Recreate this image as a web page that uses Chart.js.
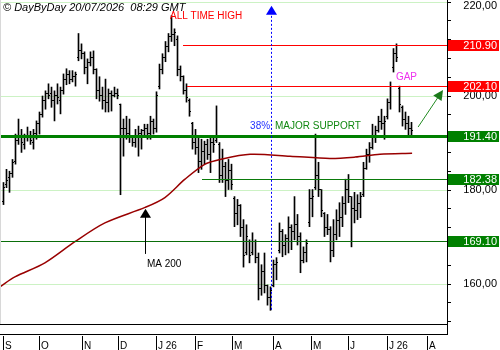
<!DOCTYPE html>
<html>
<head>
<meta charset="utf-8">
<script src="https://cdn.jsdelivr.net/npm/chart.js@4.4.0/dist/chart.umd.min.js"></script>
<style>
  html, body { margin: 0; padding: 0; background: #fff; }
  #wrap { width: 500px; height: 350px; }
</style>
</head>
<body>
<div id="wrap"><canvas id="chart" width="500" height="350"></canvas></div>
<script>
// daily bars, one per trading-day slot (index 0 = early September)
const highs = [
  181.6, 184.4, 184.0, 186.5, 191.9, 195.1, 192.9, 191.9, 193.4, 192.5,
  192.9, 194.7, 196.6, 200.0, 201.1, 202.6, 201.9, 201.1, 202.6, 201.9,
  204.7, 205.8, 205.4, 205.4, 205.1, 213.3, 211.1, 209.4, 207.9, 209.4,
  209.6, 205.8, 204.1, 201.9, 203.6, 201.5, 201.1, 201.9, 201.5, 198.3,
  195.1, 195.7, 195.1, 191.4, 192.9, 193.6, 192.9, 194.0, 194.0, 195.7,
  195.1, 200.9, 206.8, 209.0, 211.6, 213.3, 217.1, 214.3, 212.8, 206.4,
  204.3, 202.6, 199.4, 194.4, 192.9, 191.4, 190.8, 190.4, 190.8, 191.4,
  191.4, 197.9, 190.1, 188.7, 185.9, 186.5, 185.5, 178.6, 178.0, 176.9,
  173.7, 172.6, 169.4, 170.9, 169.4, 166.6, 164.1, 166.6, 159.8, 159.4,
  165.1, 165.6, 173.0, 171.6, 170.5, 174.3, 172.6, 178.6, 174.8, 170.9,
  167.9, 169.4, 180.1, 180.1, 191.9, 185.9, 180.1, 175.2, 174.8, 172.2,
  173.7, 175.8, 177.3, 178.6, 182.3, 183.3, 178.6, 179.5, 179.0, 179.5,
  185.9, 188.7, 190.1, 194.0, 193.6, 195.7, 197.2, 195.7, 199.4, 203.0,
  210.1, 211.1, 202.1, 197.9, 196.6, 195.7, 194.4
];
const lows = [
  176.9, 180.5, 179.5, 182.7, 185.5, 189.7, 188.0, 188.7, 190.4, 189.7,
  188.7, 190.8, 191.9, 195.5, 197.2, 199.4, 197.6, 194.7, 198.3, 196.2,
  200.4, 202.4, 202.6, 203.0, 202.1, 207.5, 207.9, 204.7, 202.6, 206.4,
  204.7, 199.4, 198.9, 197.2, 196.6, 196.6, 196.8, 199.8, 199.4, 179.0,
  187.2, 190.8, 190.1, 189.3, 189.1, 187.2, 188.7, 191.2, 190.8, 190.8,
  191.9, 192.3, 201.5, 204.7, 207.3, 209.4, 211.6, 210.7, 204.3, 203.2,
  200.4, 198.7, 195.7, 188.7, 187.6, 183.7, 184.4, 185.5, 186.5, 183.7,
  188.0, 190.1, 181.6, 181.6, 178.6, 180.1, 180.1, 172.2, 172.6, 170.1,
  163.6, 166.2, 164.5, 166.2, 164.5, 156.6, 157.6, 158.1, 155.5, 154.4,
  159.4, 160.9, 166.6, 165.8, 166.2, 166.6, 167.3, 169.4, 168.3, 162.4,
  164.5, 164.7, 172.2, 174.3, 180.1, 178.6, 174.3, 170.1, 170.5, 164.7,
  165.8, 169.4, 170.1, 172.2, 174.8, 177.3, 167.9, 173.0, 173.7, 174.1,
  178.6, 184.4, 185.9, 188.7, 190.1, 192.3, 192.9, 190.8, 195.1, 197.2,
  205.1, 207.3, 196.6, 193.6, 192.9, 191.4, 191.4
];
const opens = [
  177.5, 181.0, 182.5, 183.5, 186.0, 190.5, 191.5, 189.5, 191.0, 191.5,
  190.0, 192.0, 194.0, 196.0, 199.0, 200.5, 200.5, 199.0, 200.0, 199.0,
  201.0, 203.5, 204.5, 203.5, 204.0, 208.0, 209.5, 209.0, 206.0, 207.0,
  208.0, 205.5, 201.0, 200.0, 199.0, 198.5, 200.5, 200.0, 200.5, 198.0,
  193.0, 193.0, 192.0, 191.0, 190.0, 191.5, 192.0, 192.5, 193.0, 192.0,
  194.5, 193.0, 202.0, 205.5, 208.0, 210.5, 212.5, 213.0, 212.0, 205.5,
  204.0, 201.0, 199.0, 194.0, 190.0, 189.0, 186.0, 188.0, 189.5, 187.5,
  190.0, 190.5, 189.5, 183.0, 185.0, 182.0, 184.0, 178.0, 175.0, 176.5,
  172.0, 166.5, 169.0, 166.5, 169.0, 165.5, 159.0, 162.5, 159.5, 157.0,
  159.5, 164.0, 167.0, 171.0, 168.0, 169.5, 172.0, 171.0, 172.5, 170.0,
  165.0, 166.5, 173.0, 178.0, 180.5, 183.0, 180.0, 175.0, 172.0, 171.5,
  167.0, 170.5, 173.5, 174.0, 177.0, 180.0, 178.5, 176.0, 175.5, 177.0,
  179.0, 184.5, 187.5, 189.0, 191.5, 192.5, 194.5, 194.0, 195.5, 198.5,
  206.0, 209.0, 201.5, 197.5, 195.0, 194.0, 193.0
];
const closes = [
  180.5, 182.0, 183.5, 185.8, 190.5, 191.0, 190.0, 191.0, 191.5, 190.5,
  192.0, 194.0, 196.0, 199.0, 200.5, 200.0, 199.0, 200.0, 199.5, 201.0,
  203.5, 204.5, 203.5, 204.0, 204.5, 209.5, 209.0, 206.0, 207.0, 208.0,
  205.5, 201.0, 200.0, 199.0, 198.5, 200.5, 200.0, 200.5, 200.0, 193.0,
  193.0, 192.0, 191.0, 190.0, 191.5, 192.0, 192.5, 193.0, 192.0, 194.5,
  193.0, 200.0, 205.5, 208.0, 210.5, 212.5, 213.0, 213.5, 205.5, 204.0,
  201.0, 199.5, 196.5, 190.0, 189.0, 186.0, 188.0, 189.5, 187.5, 190.0,
  189.5, 191.0, 183.0, 185.0, 182.0, 184.0, 181.0, 175.0, 176.5, 172.0,
  166.0, 170.0, 166.0, 169.0, 165.5, 159.0, 162.5, 159.5, 157.0, 158.5,
  164.0, 164.5, 171.0, 168.0, 169.5, 172.0, 171.0, 172.5, 170.0, 165.0,
  166.5, 168.5, 178.0, 178.5, 183.0, 180.0, 175.5, 172.0, 171.5, 167.0,
  170.5, 173.5, 174.0, 177.0, 180.0, 178.5, 176.0, 175.5, 177.0, 178.5,
  184.5, 187.5, 189.0, 191.5, 192.5, 194.5, 194.0, 194.5, 198.5, 202.0,
  209.0, 208.0, 198.0, 195.0, 194.0, 193.0, 192.5
];

// 200-day moving average, read at a few points along the curve
const maIndex  = [-1.2, 3.8, 13.8, 23.8, 33.8, 47.2, 53.8, 60.5, 67.2, 72.2, 82.2, 95.5, 108.8, 117.2, 125.5, 136.2];
const maValues = [159.4, 161.5, 164.5, 169.0, 173.0, 176.3, 178.4, 182.3, 185.5, 186.5, 187.6, 187.2, 186.7, 187.0, 187.6, 187.8];

// x axis: month labels and where each month starts (bar index)
const monthLabels = ['S', 'O', 'N', 'D', 'J 26', 'F', 'M', 'A', 'M', 'J', 'J 26', 'A'];
const monthStart  = [-0.2, 11.8, 26.2, 38.2, 50.8, 63.8, 76.2, 89.8, 102.5, 114.8, 127.8, 141.2];

// y axis labels
const priceTicks = [160, 180, 200, 220];

// horizontal levels
const levelValues = [210.90, 202.10, 191.40, 182.38, 169.10];
const levelLabels = ['210.90', '202.10', '191.40', '182.38', '169.10'];
const levelStart  = [59.8, 61.2, -1.2, 66.2, -1.2];

const xMin = -7 / 6, xMax = 887 / 6;
const yMin = 151.49, yMax = 220.43;

const levelStyle = [
  { color: '#ff0000', width: 1 },
  { color: '#ff0000', width: 1 },
  { color: '#008000', width: 3 },
  { color: '#0a7a0a', width: 1 },
  { color: '#0a6e0a', width: 1 }
];

const FONT = '"Liberation Sans", Arial, sans-serif';

function arrowHead(ctx, tx, ty, ang, len, half) {
  ctx.beginPath();
  ctx.moveTo(tx, ty);
  ctx.lineTo(tx - len * Math.cos(ang) + half * Math.sin(ang), ty - len * Math.sin(ang) - half * Math.cos(ang));
  ctx.lineTo(tx - len * Math.cos(ang) - half * Math.sin(ang), ty - len * Math.sin(ang) + half * Math.cos(ang));
  ctx.closePath();
  ctx.fill();
}

const decor = {
  id: 'decor',
  afterDatasetsDraw(chart) {
    const { ctx, chartArea: a, scales: { x, y } } = chart;
    ctx.save();

    // open / close ticks
    ctx.fillStyle = '#000';
    closes.forEach((c, i) => {
      const bx = Math.floor(x.getPixelForValue(i));
      ctx.fillRect(bx - 1, Math.round(y.getPixelForValue(opens[i])) - 1, 1, 1);
      ctx.fillRect(bx + 1, Math.round(y.getPixelForValue(c)) - 1, 1, 1);
    });

    // level lines
    levelValues.forEach((v, k) => {
      const st = levelStyle[k];
      const ly = Math.round(y.getPixelForValue(v));
      const lx = Math.max(a.left, Math.round(x.getPixelForValue(levelStart[k])));
      ctx.fillStyle = st.color;
      ctx.fillRect(lx, ly - Math.floor(st.width / 2), a.right - lx, st.width);
    });

    ctx.restore();
  },
  afterDraw(chart) {
    const { ctx, chartArea: a, scales: { x, y } } = chart;
    ctx.save();

    // left border
    ctx.fillStyle = '#d8d8d8';
    ctx.fillRect(0, 0, 1, a.bottom);

    // bottom axis strip
    ctx.fillStyle = '#000';
    ctx.fillRect(0, a.bottom, a.right + 1, 1);
    ctx.fillRect(0, a.bottom + 10, a.right + 1, 1);
    ctx.fillRect(a.right, a.bottom, 1, 11);
    ctx.font = '10px ' + FONT;
    ctx.textAlign = 'left';
    ctx.textBaseline = 'alphabetic';
    monthStart.forEach((m, k) => {
      const mx = Math.max(2, Math.round(x.getPixelForValue(m)));
      ctx.fillRect(mx, a.bottom + 12, 1, 14);
      ctx.fillText(monthLabels[k], mx + 2, 349);
    });

    // y labels
    ctx.font = '11px ' + FONT;
    ctx.textAlign = 'right';
    ctx.textBaseline = 'middle';
    priceTicks.forEach(v => {
      const ty = Math.max(6, y.getPixelForValue(v));
      ctx.fillText(v.toFixed(2).replace('.', ','), 497, ty);
    });

    // level boxes
    levelValues.forEach((v, k) => {
      const ly = Math.round(y.getPixelForValue(v));
      ctx.fillStyle = k < 2 ? '#ff0000' : '#008000';
      ctx.fillRect(a.right + 1, ly - 5, 51, 11);
      ctx.fillStyle = '#fff';
      ctx.fillText(levelLabels[k], 497, ly + 1);
    });

    // caption
    ctx.fillStyle = '#000';
    ctx.textAlign = 'left';
    ctx.textBaseline = 'alphabetic';
    ctx.font = 'italic 11px ' + FONT;
    ctx.fillText('\u00a9 DayByDay 20/07/2026  08:29 GMT', 3, 11);

    // annotations
    ctx.font = '10px ' + FONT;
    ctx.textBaseline = 'middle';
    const notes = [
      { t: 'ALL TIME HIGH', i: 55.5, v: 216.9, c: '#ff0000' },
      { t: 'GAP', i: 130.8, v: 204.0, c: '#ee33ee' },
      { t: '38%', i: 82.2, v: 193.6, c: '#2233ff' },
      { t: 'MAJOR SUPPORT', i: 90.5, v: 193.6, c: '#118811' },
      { t: 'MA 200', i: 47.8, v: 164.3, c: '#000' }
    ];
    notes.forEach(n => {
      ctx.fillStyle = n.c;
      ctx.fillText(n.t, x.getPixelForValue(n.i), y.getPixelForValue(n.v));
    });

    // blue dotted retracement marker
    const bx = Math.round(x.getPixelForValue(89.07)) + 0.5;
    ctx.strokeStyle = '#0000ff';
    ctx.fillStyle = '#0000ff';
    ctx.lineWidth = 1;
    ctx.setLineDash([2, 2]);
    ctx.beginPath();
    ctx.moveTo(bx, y.getPixelForValue(154.5));
    ctx.lineTo(bx, y.getPixelForValue(219.2) + 8);
    ctx.stroke();
    ctx.setLineDash([]);
    arrowHead(ctx, bx, y.getPixelForValue(219.2), -Math.PI / 2, 9, 5.5);

    // black MA arrow
    const kx = Math.round(x.getPixelForValue(47.2)) + 0.5;
    const kTip = y.getPixelForValue(176.0);
    ctx.strokeStyle = '#000';
    ctx.fillStyle = '#000';
    ctx.beginPath();
    ctx.moveTo(kx, y.getPixelForValue(166.4));
    ctx.lineTo(kx, kTip + 8);
    ctx.stroke();
    arrowHead(ctx, kx, kTip, -Math.PI / 2, 9, 5.5);

    // green arrow
    const g1x = x.getPixelForValue(138.2), g1y = y.getPixelForValue(193.4);
    const g2x = x.getPixelForValue(146.5), g2y = y.getPixelForValue(201.3);
    const ang = Math.atan2(g2y - g1y, g2x - g1x);
    ctx.strokeStyle = '#228b22';
    ctx.fillStyle = '#1a7a1a';
    ctx.beginPath();
    ctx.moveTo(g1x, g1y);
    ctx.lineTo(g2x - 8 * Math.cos(ang), g2y - 8 * Math.sin(ang));
    ctx.stroke();
    arrowHead(ctx, g2x, g2y, ang, 10, 5);

    ctx.restore();
  }
};

const minorTicks = [];
for (let v = 152; v <= 220; v += 4) minorTicks.push(v);

new Chart(document.getElementById('chart'), {
  type: 'bar',
  data: {
    datasets: [
      {
        type: 'line',
        data: maIndex.map((m, k) => ({ x: m, y: maValues[k] })),
        borderColor: '#990000',
        borderWidth: 1.5,
        pointRadius: 0,
        tension: 0.3
      },
      {
        type: 'bar',
        data: highs.map((h, i) => ({ x: i, y: [lows[i], h] })),
        backgroundColor: '#000',
        borderWidth: 0,
        barThickness: 1,
        grouped: false
      }
    ]
  },
  options: {
    responsive: false,
    animation: false,
    devicePixelRatio: 1,
    layout: { padding: { left: 0, top: 0, right: 0, bottom: 26 } },
    plugins: { legend: { display: false }, tooltip: { enabled: false } },
    scales: {
      x: {
        type: 'linear',
        min: xMin,
        max: xMax,
        offset: false,
        display: false
      },
      y: {
        position: 'right',
        min: yMin,
        max: yMax,
        afterFit: s => { s.width = 53; },
        afterBuildTicks: s => { s.ticks = minorTicks.map(v => ({ value: v })); },
        ticks: { display: false },
        grid: {
          color: c => (c.tick && priceTicks.includes(c.tick.value)) ? '#ccf2c4' : 'rgba(0,0,0,0)',
          tickColor: '#000',
          tickLength: 4
        },
        border: { color: '#000' }
      }
    }
  },
  plugins: [decor]
});
</script>
</body>
</html>
